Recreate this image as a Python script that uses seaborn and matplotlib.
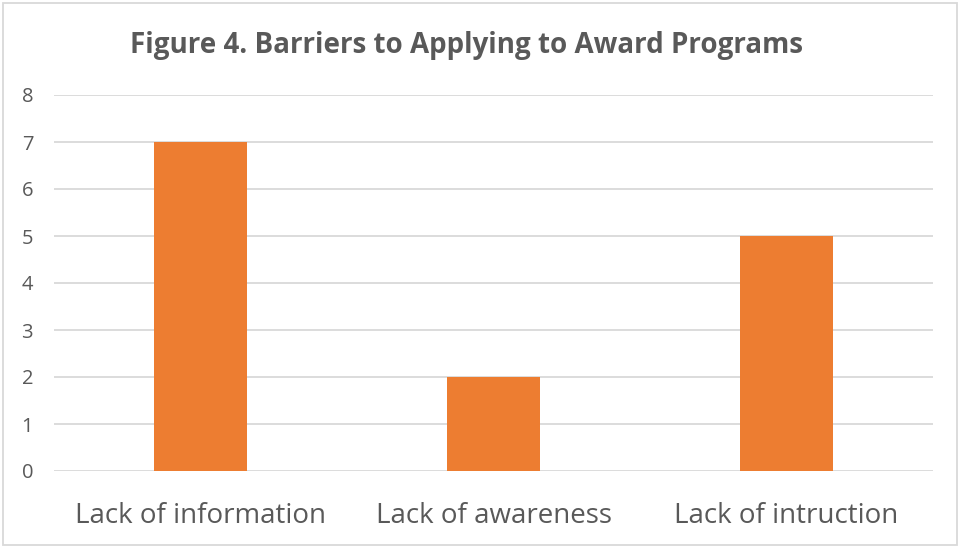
import matplotlib
matplotlib.use("Agg")
import matplotlib.pyplot as plt
import seaborn as sns
import pandas as pd
from matplotlib.patches import Rectangle

# Data
categories = ["Lack of information", "Lack of awareness", "Lack of intruction"]
counts = [7, 2, 5]

df = pd.DataFrame({"barrier": categories, "count": counts})

sns.set_style("white")
plt.rcParams['font.family'] = ['Open Sans', 'DejaVu Sans']

text_color = "#595959"
grid_color = "#D9D9D9"
bar_color = "#ED7D31"

fig = plt.figure(figsize=(9.6, 5.47), dpi=100)
ax = fig.add_axes([54 / 960, 1 - 471 / 547, (933 - 54) / 960, (471 - 95) / 547])

sns.barplot(data=df, x="barrier", y="count", color=bar_color, width=0.315,
            saturation=1, linewidth=0, ax=ax, zorder=3)

ax.set_ylim(0, 8)
ax.set_xlim(-0.5, 2.5)
ax.set_yticks(range(0, 9))
ax.yaxis.grid(True, color=grid_color, linewidth=1.3, zorder=0)
ax.xaxis.grid(False)
for s in ax.spines.values():
    s.set_visible(False)

ax.set_xlabel("")
ax.set_ylabel("")
ax.tick_params(axis='y', length=0, pad=15, labelsize=14.5, labelcolor=text_color)
ax.tick_params(axis='x', length=0, pad=22, labelsize=20, labelcolor=text_color)

fig.text(467 / 960, 1 - 45 / 547, "Figure 4. Barriers to Applying to Award Programs",
         ha='center', va='center', fontsize=20, fontweight='bold', color=text_color)

# chart border
fig.patches.append(Rectangle((3 / 960, 2 / 547), 954 / 960, 542 / 547,
                             transform=fig.transFigure, fill=False,
                             edgecolor="#D9D9D9", linewidth=1.3))

fig.savefig("out.png", dpi=100, facecolor="white")
